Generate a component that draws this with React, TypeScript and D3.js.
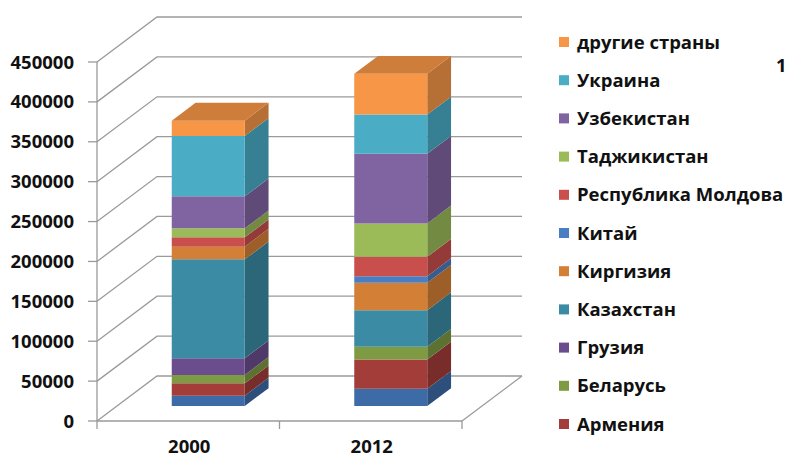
import React, { useRef, useEffect } from "react";
import * as d3 from "d3";

// categories (years) and series, bottom of the stack first
const years = ["2000", "2012"];
const countries = [
  "Азербайджан",
  "Армения",
  "Беларусь",
  "Грузия",
  "Казахстан",
  "Киргизия",
  "Китай",
  "Республика Молдова",
  "Таджикистан",
  "Узбекистан",
  "Украина",
  "другие страны",
];
const values2000 = [12900, 15500, 10500, 20900, 124000, 15900, 0, 11700, 11300, 40100, 75600, 19300];
const values2012 = [21600, 36700, 15900, 0, 45900, 34300, 8300, 24300, 41800, 87300, 49300, 51000];
const yTicks = [0, 50000, 100000, 150000, 200000, 250000, 300000, 350000, 400000, 450000];
const colors = [
  "#3d6ba7", "#a33d3a", "#7e9b43", "#6b4d8d", "#3a8ba3", "#d47f36",
  "#4a7ec2", "#c84f4c", "#9bbb59", "#8064a2", "#4bacc6", "#f79646",
];
const stray = "1";

const W = 788, H = 457;

function App() {
  const svgRef = useRef(null);

  useEffect(() => {
    const svg = d3.select(svgRef.current);
    svg.selectAll("*").remove();

    // plot geometry: front plane and depth offset
    const x0 = 97, x1 = 462;
    const depthX = 60, depthY = -45;
    const y = d3.scaleLinear().domain([0, 450000]).range([421, 62]);
    const x = d3.scaleBand().domain(years).range([x0, x1]);
    const proj = (px, v, dep) => [px + dep * depthX, y(v) + dep * depthY];
    const font = "'Open Sans', sans-serif";
    const grid = "#9a9a9a";
    const fs = 18.5;

    // back wall gridlines + left wall diagonals
    yTicks.forEach((t) => {
      const a = proj(x0, t, 0), b = proj(x0, t, 1), c = proj(x1, t, 1);
      svg.append("polyline")
        .attr("points", [a, b, c].map((p) => p.join(",")).join(" "))
        .attr("fill", "none").attr("stroke", grid).attr("stroke-width", 1.3);
    });
    // floor right edge
    const fr0 = proj(x1, 0, 0), fr1 = proj(x1, 0, 1);
    svg.append("line").attr("x1", fr0[0]).attr("y1", fr0[1]).attr("x2", fr1[0]).attr("y2", fr1[1])
      .attr("stroke", grid).attr("stroke-width", 1.3);

    // axes
    svg.append("line").attr("x1", x0).attr("x2", x0).attr("y1", y(450000)).attr("y2", y(0))
      .attr("stroke", grid).attr("stroke-width", 1.3);
    svg.append("line").attr("x1", x0).attr("x2", x1).attr("y1", y(0)).attr("y2", y(0))
      .attr("stroke", grid).attr("stroke-width", 1.3);
    yTicks.forEach((t) => {
      svg.append("line").attr("x1", x0 - 9).attr("x2", x0).attr("y1", y(t)).attr("y2", y(t))
        .attr("stroke", grid).attr("stroke-width", 1.3);
      svg.append("text").attr("x", 74).attr("y", y(t) + 6.5).attr("text-anchor", "end")
        .attr("font-family", font).attr("font-weight", 700).attr("font-size", fs)
        .attr("fill", "#111").text(String(t));
    });
    [x0, x0 + x.bandwidth(), x1].forEach((px) => {
      svg.append("line").attr("x1", px).attr("x2", px).attr("y1", y(0)).attr("y2", y(0) + 8)
        .attr("stroke", grid).attr("stroke-width", 1.3);
    });
    years.forEach((yr) => {
      svg.append("text").attr("x", x(yr) + x.bandwidth() / 2 + 1).attr("y", 453)
        .attr("text-anchor", "middle").attr("font-family", font).attr("font-weight", 700)
        .attr("font-size", fs).attr("fill", "#111").text(yr);
    });

    // stacked 3D bars
    const rows = years.map((yr, i) => {
      const r = { year: yr };
      countries.forEach((c, k) => { r[c] = (i === 0 ? values2000 : values2012)[k]; });
      return r;
    });
    const stack = d3.stack().keys(countries)(rows);
    const barW = 73, d0 = 1 / 3, d1 = 0.73;
    const p = (px, v, dp) => proj(px, v, dp).join(",");
    years.forEach((yr, i) => {
      const fx = x(yr) + x.bandwidth() / 2 - barW / 2;
      const g = svg.append("g");
      stack.forEach((layer, k) => {
        const [lo, hi] = layer[i];
        if (hi - lo <= 0) return;
        const col = d3.color(colors[k]);
        // side face
        g.append("polygon")
          .attr("points", [p(fx + barW, lo, d0), p(fx + barW, lo, d1), p(fx + barW, hi, d1), p(fx + barW, hi, d0)].join(" "))
          .attr("fill", col.darker(0.85).formatHex());
        // front face
        g.append("polygon")
          .attr("points", [p(fx, lo, d0), p(fx + barW, lo, d0), p(fx + barW, hi, d0), p(fx, hi, d0)].join(" "))
          .attr("fill", colors[k]);
      });
      // top face of the last layer
      const top = stack[stack.length - 1][i][1];
      g.append("polygon")
        .attr("points", [p(fx, top, d0), p(fx + barW, top, d0), p(fx + barW, top, d1), p(fx, top, d1)].join(" "))
        .attr("fill", d3.color(colors[colors.length - 1]).darker(0.5).formatHex());
    });

    // legend, top item is the last series; items past the bottom edge are not shown
    const leg = svg.append("g");
    countries.slice().reverse().forEach((c, j) => {
      const k = countries.length - 1 - j;
      const ly = 42 + j * 38.2;
      if (ly + 6 > H) return;
      leg.append("rect").attr("x", 559).attr("y", ly - 5).attr("width", 10).attr("height", 10)
        .attr("fill", colors[k]);
      leg.append("text").attr("x", 577).attr("y", ly + 6.5).attr("font-family", font)
        .attr("font-weight", 700).attr("font-size", fs).attr("fill", "#111").text(c);
    });
    svg.append("text").attr("x", 776).attr("y", 72).attr("font-family", font)
      .attr("font-weight", 700).attr("font-size", fs).attr("fill", "#111").text(stray);
  }, []);

  return (
    <svg
      ref={svgRef}
      width={W}
      height={H}
      style={{ position: "absolute", left: 0, top: 0, background: "#fff" }}
    />
  );
}

export default App;
